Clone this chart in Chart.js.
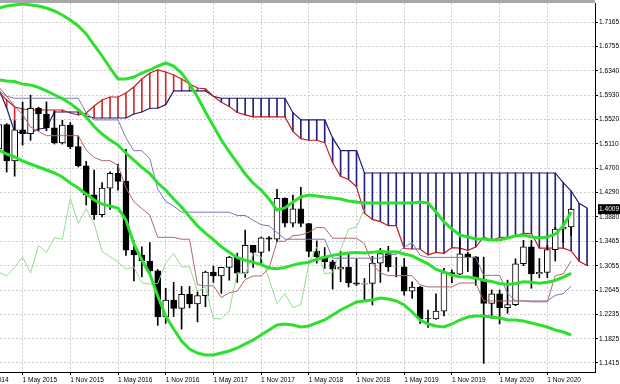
<!DOCTYPE html>
<html><head><meta charset="utf-8">
<script src="https://cdn.jsdelivr.net/npm/chart.js@4.4.1/dist/chart.umd.min.js"></script>
<style>
html,body{margin:0;padding:0;background:#fff;}
#wrap{position:relative;width:620px;height:384px;overflow:hidden;}
#c{position:absolute;left:0;top:0;}
#topbar{position:absolute;left:0;top:0;width:595px;height:3px;background:#a8a8a8;}
</style></head><body>
<div id="wrap"><canvas id="c" width="620" height="384"></canvas><div id="topbar"></div></div>
<script>
// Monthly bars, index 0 = Feb 2015 ... 72 = Feb 2021 (cloud runs to 74 = Apr 2021)
const openP = [1.5025,1.5435,1.4822,1.5345,1.5281,1.5710,1.5614,1.5380,1.5124,1.5427,1.5064,1.4738,1.4250,1.3918,1.4365,1.4615,1.4478,1.3316,1.3236,1.3135,1.2969,1.2190,1.2475,1.2336,1.2575,1.2411,1.2550,1.2946,1.2884,1.3027,1.3203,1.2931,1.3399,1.3278,1.3527,1.3503,1.4190,1.3771,1.4015,1.3768,1.3296,1.3206,1.3122,1.2997,1.3031,1.2767,1.2745,1.2756,1.3098,1.3262,1.3034,1.3037,1.2627,1.2696,1.2163,1.2160,1.2290,1.2939,1.2914,1.3256,1.3205,1.2828,1.2418,1.2582,1.2350,1.2399,1.3088,1.3373,1.2919,1.2944,1.3326,1.3672,1.3708];
const highP = [1.5552,1.5452,1.5498,1.5815,1.5930,1.5730,1.5818,1.5658,1.5508,1.5470,1.5242,1.4815,1.4668,1.4459,1.4638,1.4770,1.5018,1.3479,1.3372,1.3445,1.2990,1.2674,1.2775,1.2706,1.2706,1.2615,1.2965,1.3048,1.3030,1.3213,1.3266,1.3657,1.3400,1.3537,1.3548,1.4345,1.4200,1.4245,1.4377,1.3770,1.3473,1.3362,1.3150,1.3299,1.3258,1.3175,1.2840,1.3215,1.3350,1.3382,1.3197,1.3178,1.2783,1.2708,1.2309,1.2582,1.3012,1.2985,1.3514,1.3285,1.3210,1.3200,1.2647,1.2647,1.2813,1.3171,1.3483,1.3482,1.3176,1.3398,1.3703,1.3759,1.4017];
const lowP = [1.4952,1.4634,1.4565,1.5088,1.5170,1.5330,1.5330,1.5108,1.5107,1.5026,1.4722,1.4079,1.3836,1.3880,1.4006,1.4331,1.3229,1.2798,1.2866,1.2915,1.2050,1.2083,1.2200,1.1986,1.2345,1.2108,1.2365,1.2773,1.2589,1.2811,1.2774,1.2858,1.3027,1.3061,1.3303,1.3458,1.3711,1.3710,1.3712,1.3205,1.3099,1.3011,1.2661,1.2785,1.2696,1.2723,1.2477,1.2394,1.2773,1.2961,1.2866,1.2559,1.2506,1.2081,1.2014,1.2150,1.2208,1.2769,1.2904,1.2954,1.2725,1.1409,1.2165,1.2075,1.2252,1.2380,1.3056,1.2676,1.2853,1.2854,1.3134,1.3451,1.3567];
const closeP = [1.5435,1.4822,1.5345,1.5281,1.5710,1.5614,1.5380,1.5124,1.5427,1.5064,1.4738,1.4250,1.3918,1.4365,1.4615,1.4478,1.3316,1.3236,1.3135,1.2969,1.2190,1.2475,1.2336,1.2575,1.2411,1.2550,1.2946,1.2884,1.3027,1.3203,1.2931,1.3399,1.3278,1.3527,1.3503,1.4190,1.3771,1.4015,1.3768,1.3296,1.3206,1.3122,1.2997,1.3031,1.2767,1.2745,1.2756,1.3098,1.3262,1.3034,1.3037,1.2627,1.2696,1.2163,1.2160,1.2290,1.2939,1.2914,1.3256,1.3205,1.2828,1.2418,1.2582,1.2350,1.2399,1.3088,1.3373,1.2919,1.2944,1.3326,1.3672,1.3708,1.4009];

// Bollinger bands
const bbUpper = [1.7401,1.7435,1.7452,1.7469,1.7452,1.7435,1.7401,1.7351,1.7283,1.7199,1.7098,1.6963,1.6777,1.6592,1.6389,1.6204,1.6204,1.6238,1.6305,1.6356,1.6423,1.6474,1.6423,1.6305,1.6120,1.5900,1.5648,1.5411,1.5175,1.4973,1.4788,1.4602,1.4450,1.4332,1.4180,1.3995,1.4029,1.4130,1.4214,1.4248,1.4231,1.4214,1.4197,1.4180,1.4147,1.4130,1.4113,1.4113,1.4113,1.4113,1.4113,1.4113,1.4113,1.4130,1.4113,1.3961,1.3793,1.3675,1.3573,1.3540,1.3506,1.3506,1.3489,1.3489,1.3523,1.3557,1.3573,1.3540,1.3523,1.3540,1.3590,1.3725,1.3961];
const bbMiddle = [1.6189,1.6170,1.6162,1.6117,1.6101,1.6063,1.6004,1.5938,1.5873,1.5793,1.5686,1.5561,1.5402,1.5276,1.5177,1.5090,1.4956,1.4836,1.4714,1.4611,1.4449,1.4332,1.4181,1.4046,1.3881,1.3728,1.3606,1.3494,1.3374,1.3281,1.3191,1.3148,1.3116,1.3074,1.3018,1.3004,1.3027,1.3066,1.3097,1.3114,1.3165,1.3197,1.3230,1.3253,1.3271,1.3280,1.3271,1.3282,1.3293,1.3285,1.3290,1.3252,1.3222,1.3154,1.3087,1.2992,1.2951,1.2895,1.2870,1.2865,1.2846,1.2811,1.2790,1.2756,1.2738,1.2755,1.2786,1.2777,1.2761,1.2776,1.2808,1.2862,1.2927];
const bbLower = [1.5007,1.4939,1.4889,1.4821,1.4771,1.4720,1.4669,1.4619,1.4551,1.4450,1.4366,1.4265,1.4164,1.4096,1.4062,1.4029,1.3826,1.3422,1.3152,1.2916,1.2545,1.2208,1.1988,1.1786,1.1651,1.1584,1.1550,1.1550,1.1584,1.1617,1.1668,1.1736,1.1803,1.1887,1.1972,1.2056,1.2073,1.2056,1.2022,1.2039,1.2090,1.2140,1.2225,1.2309,1.2376,1.2444,1.2461,1.2477,1.2511,1.2494,1.2461,1.2393,1.2275,1.2140,1.2073,1.2039,1.2022,1.2073,1.2140,1.2191,1.2208,1.2208,1.2191,1.2174,1.2140,1.2140,1.2123,1.2090,1.2056,1.2022,1.1972,1.1938,1.1887];

// Ichimoku
const tenkan = [1.6072,1.5913,1.5745,1.5605,1.5396,1.5318,1.5248,1.5248,1.5248,1.5248,1.5248,1.5005,1.4883,1.4827,1.4827,1.4747,1.4369,1.4134,1.4020,1.3908,1.3534,1.3534,1.3534,1.3502,1.3502,1.2733,1.2716,1.2716,1.2517,1.2600,1.2626,1.2822,1.2883,1.2883,1.3011,1.3467,1.3467,1.3560,1.3576,1.3618,1.3702,1.3694,1.3519,1.3519,1.3519,1.3519,1.3427,1.3082,1.2934,1.2888,1.2888,1.2888,1.2888,1.2732,1.2698,1.2698,1.2698,1.2698,1.2764,1.2764,1.2764,1.2462,1.2462,1.2462,1.2462,1.2462,1.2462,1.2446,1.2446,1.2446,1.2889,1.2917,1.3135];
const kijun = [1.6003,1.5913,1.5879,1.5879,1.5879,1.5879,1.5879,1.5879,1.5879,1.5879,1.5879,1.5636,1.5514,1.5514,1.5514,1.5514,1.5211,1.4995,1.4995,1.4861,1.4347,1.4139,1.4061,1.3958,1.3958,1.3958,1.3958,1.3958,1.3958,1.3958,1.3902,1.3902,1.3822,1.3747,1.3728,1.3614,1.3502,1.3502,1.3502,1.3502,1.3502,1.3502,1.3182,1.3182,1.3182,1.3182,1.3182,1.3182,1.3182,1.3243,1.3243,1.3371,1.3442,1.3229,1.3196,1.3196,1.3196,1.3196,1.3196,1.3196,1.3196,1.2893,1.2893,1.2893,1.2590,1.2462,1.2462,1.2462,1.2462,1.2462,1.2556,1.2584,1.2713];
const senkouA = [1.5985,1.5850,1.5732,1.5698,1.5681,1.5681,1.5681,1.5681,1.5681,1.5631,1.5597,1.5631,1.5749,1.5850,1.5900,1.5900,1.5968,1.6069,1.6204,1.6305,1.6356,1.6322,1.6271,1.6204,1.6120,1.6052,1.6038,1.5913,1.5812,1.5742,1.5638,1.5599,1.5564,1.5564,1.5564,1.5564,1.5564,1.5321,1.5199,1.5171,1.5171,1.5131,1.4790,1.4565,1.4508,1.4385,1.3941,1.3837,1.3798,1.3730,1.3730,1.3346,1.3337,1.3337,1.3238,1.3279,1.3264,1.3362,1.3353,1.3315,1.3370,1.3541,1.3485,1.3531,1.3539,1.3560,1.3602,1.3598,1.3351,1.3351,1.3351,1.3351,1.3305,1.3132,1.3058];
const senkouB = [1.6035,1.5715,1.5310,1.5293,1.5293,1.5361,1.5378,1.5647,1.5647,1.5647,1.5647,1.5580,1.5546,1.5546,1.5546,1.5546,1.5546,1.5613,1.5647,1.5711,1.5711,1.5771,1.6003,1.6003,1.6003,1.6003,1.6003,1.5913,1.5879,1.5879,1.5879,1.5879,1.5879,1.5879,1.5879,1.5879,1.5879,1.5636,1.5514,1.5514,1.5514,1.5514,1.5211,1.4995,1.4995,1.4995,1.4619,1.4619,1.4619,1.4619,1.4619,1.4619,1.4619,1.4619,1.4619,1.4619,1.4619,1.4619,1.4619,1.4619,1.4619,1.4619,1.4619,1.4619,1.4619,1.4619,1.4619,1.4619,1.4619,1.4619,1.4619,1.4455,1.4315,1.4107,1.4029];
const chikou = [1.2946,1.2884,1.3027,1.3203,1.2931,1.3399,1.3278,1.3527,1.3503,1.4190,1.3771,1.4015,1.3768,1.3296,1.3206,1.3122,1.2997,1.3031,1.2767,1.2745,1.2756,1.3098,1.3262,1.3034,1.3037,1.2627,1.2696,1.2163,1.2160,1.2290,1.2939,1.2914,1.3256,1.3205,1.2828,1.2418,1.2582,1.2350,1.2399,1.3088,1.3373,1.2919,1.2944,1.3326,1.3672,1.3708,1.4009];

// Axes
const xTickIdx = [-3,3,9,15,21,27,33,39,45,51,57,63,69];
const xTickLabels = ['1 Nov 2014','1 May 2015','1 Nov 2015','1 May 2016','1 Nov 2016','1 May 2017','1 Nov 2017','1 May 2018','1 Nov 2018','1 May 2019','1 Nov 2019','1 May 2020','1 Nov 2020'];
const yTicks = [1.1415,1.1825,1.2235,1.2645,1.3055,1.3465,1.3880,1.4009,1.4290,1.4700,1.5110,1.5520,1.5930,1.6340,1.6755,1.7165];
const lastPrice = 1.4009;
const X_MIN = 0.157, X_MAX = 75.0, Y_MIN = 1.12632, Y_MAX = 1.74854;

const FONT = {family: "'Liberation Sans', Arial, sans-serif", size: 6.6};
const pts = arr => arr.map((v, i) => ({x: i, y: v}));
const range = (a, b) => a.map((v, i) => ({x: i, y: [v, b[i]]}));

const line = (label, data, color, width, order) => ({
  type: 'line', label, data, borderColor: color, borderWidth: width,
  pointRadius: 0, tension: 0, fill: false, order
});

const datasets = [
  {type: 'bar', label: 'cloud', data: range(senkouA, senkouB),
   backgroundColor: senkouA.map((a, i) => a >= senkouB[i] ? '#d02a2a' : '#22227a'),
   barThickness: 1, grouped: false, order: 10},
  line('Senkou A', pts(senkouA), '#c41c1c', 1.2, 9),
  line('Senkou B', pts(senkouB), '#1c1c74', 1.2, 9),
  {type: 'bar', label: 'wick', data: range(lowP, highP), backgroundColor: '#000',
   barThickness: 1, grouped: false, order: 8},
  {type: 'bar', label: 'body', data: range(openP, closeP),
   backgroundColor: closeP.map((c, i) => c >= openP[i] ? '#ffffff' : '#000000'),
   borderColor: '#000', borderWidth: 1, borderSkipped: false,
   barThickness: 6, grouped: false, order: 7},
  line('Tenkan', pts(tenkan), '#b06868', 1, 5),
  line('Kijun', pts(kijun), '#7878b4', 1, 5),
  line('Chikou', pts(chikou), '#94dc94', 1, 5),
  line('BB upper', pts(bbUpper), '#2ee02e', 3, 1),
  line('BB middle', pts(bbMiddle), '#2ee02e', 3, 1),
  line('BB lower', pts(bbLower), '#2ee02e', 3, 1)
];

new Chart(document.getElementById('c'), {
  type: 'bar',
  data: {datasets},
  options: {
    responsive: false, animation: false, devicePixelRatio: 1,
    layout: {padding: {top: 3, left: 0, right: 0, bottom: 0}},
    plugins: {legend: {display: false}, tooltip: {enabled: false}},
    scales: {
      x: {
        type: 'linear', min: X_MIN, max: X_MAX, bounds: 'data', offset: false,
        afterBuildTicks: s => { s.ticks = xTickIdx.map(v => ({value: v})); },
        afterFit: s => { s.height = 12; s.paddingLeft = 0; s.paddingRight = 0; },
        ticks: {autoSkip: false, maxRotation: 0, minRotation: 0, align: 'start', padding: 1,
                color: '#000', font: FONT,
                callback: v => xTickLabels[xTickIdx.indexOf(v)]},
        grid: {offset: false, color: '#cdcdcd', lineWidth: 1, tickLength: 3, tickColor: '#000', tickBorderDash: [], tickWidth: 1},
        border: {display: true, color: '#000', width: 1, dash: [2, 2]}
      },
      y: {
        position: 'right', min: Y_MIN, max: Y_MAX, bounds: 'data',
        afterBuildTicks: s => { s.ticks = yTicks.map(v => ({value: v})); },
        afterFit: s => { s.width = 25; s.paddingTop = 0; s.paddingBottom = 0; },
        ticks: {autoSkip: false, padding: 1, font: FONT,
                color: c => c.tick && c.tick.value === lastPrice ? '#fff' : '#000',
                showLabelBackdrop: c => !!(c.tick && c.tick.value === lastPrice),
                backdropColor: '#000', backdropPadding: {top: 1, bottom: 1, left: 1, right: 2},
                callback: v => v.toFixed(4)},
        grid: {color: c => c.tick && c.tick.value === lastPrice ? 'rgba(0,0,0,0)' : '#cdcdcd',
               lineWidth: 1, tickLength: 3,
               tickColor: c => c.tick && c.tick.value === lastPrice ? 'rgba(0,0,0,0)' : '#000',
               tickBorderDash: [], tickWidth: 1},
        border: {display: true, color: '#000', width: 1, dash: [2, 2]}
      }
    }
  }
});
</script>
</body></html>
